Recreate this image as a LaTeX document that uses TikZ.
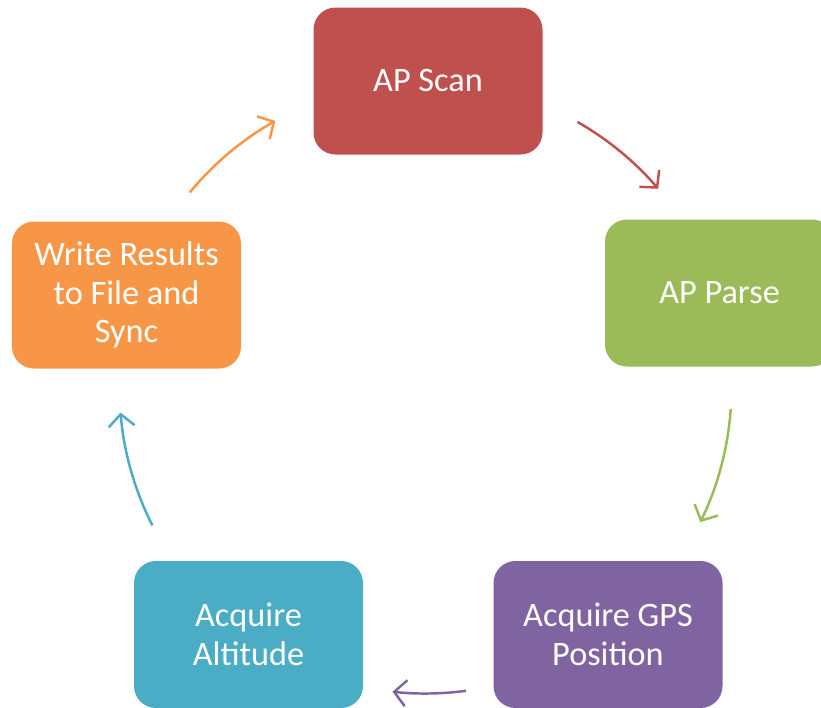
\documentclass[tikz,border=0pt]{standalone}
\usepackage{fontspec}
\setmainfont{Carlito}
\usetikzlibrary{arrows.meta}
\definecolor{scanred}{HTML}{C0504D}
\definecolor{parsegreen}{HTML}{9BBB59}
\definecolor{gpspurple}{HTML}{8064A2}
\definecolor{altteal}{HTML}{4BACC6}
\definecolor{writeorange}{HTML}{F79646}
\begin{document}
\begin{tikzpicture}[
    stage/.style={rounded corners=0.44cm, minimum width=4.58cm, minimum height=2.94cm,
      text=white, align=center, inner sep=0pt, font=\fontsize{19.5}{22}\selectfont},
    cyclearrow/.style={line width=1.4pt, -{Straight Barb[length=0.24cm, width=0.52cm]}}
  ]
  \useasboundingbox (0, 0) rectangle (16.42, -14.14);
  % the five stages
  \node[stage, fill=scanred] (scan) at (8.56, -1.62) {AP Scan};
  \node[stage, fill=parsegreen] (parse) at (14.39, -5.86) {AP Parse};
  \node[stage, fill=gpspurple] (gps) at (12.16, -12.69) {Acquire GPS\\Position};
  \node[stage, fill=altteal] (alt) at (4.97, -12.69) {Acquire\\Altitude};
  \node[stage, fill=writeorange] (write) at (2.53, -5.9) {Write Results\\to File and\\Sync};
  % arrows along one circle
  \coordinate (hub) at (8.51, -7.75);
  \coordinate (scanout) at ([shift={(60.2:6.12)}]hub);
  \coordinate (parseout) at ([shift={(-4:6.12)}]hub);
  \coordinate (gpsout) at ([shift={(-82.4:6.12)}]hub);
  \coordinate (altout) at ([shift={(206.8:6.12)}]hub);
  \coordinate (writeout) at ([shift={(140.4:6.12)}]hub);
  \draw[cyclearrow, scanred] (scanout) arc[start angle=60.2, end angle=40.5, radius=6.12];
  \draw[cyclearrow, parsegreen] (parseout) arc[start angle=-4, end angle=-26.1, radius=6.12];
  \draw[cyclearrow, gpspurple] (gpsout) arc[start angle=-82.4, end angle=-96.2, radius=6.12];
  \draw[cyclearrow, altteal] (altout) arc[start angle=206.8, end angle=184.7, radius=6.12];
  \draw[cyclearrow, writeorange] (writeout) arc[start angle=140.4, end angle=119.4, radius=6.12];
\end{tikzpicture}
\end{document}
